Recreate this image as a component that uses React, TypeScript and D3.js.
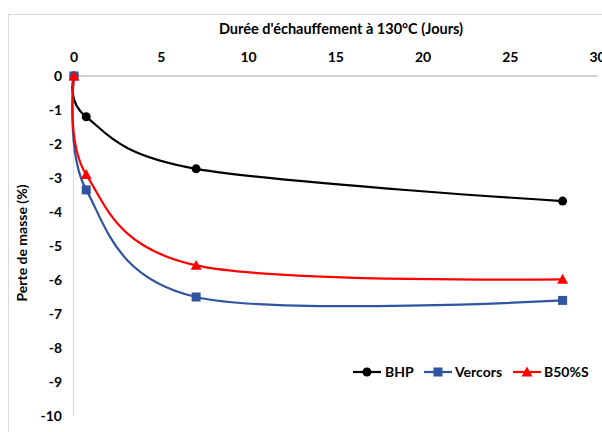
import React from "react";
import * as d3 from "d3";

const days = [0, 0.7, 7, 28];
const bhp = [0, -1.2, -2.73, -3.68];
const vercors = [0, -3.35, -6.5, -6.6];
const b50 = [0, -2.9, -5.57, -5.98];
const xTicks = [0, 5, 10, 15, 20, 25, 30];
const yTicks = [0, -1, -2, -3, -4, -5, -6, -7, -8, -9, -10];
const seriesNames = ["BHP", "Vercors", "B50%S"];
const seriesColors = ["#000000", "#2F55A0", "#FF0000"];
const xTitle = "Durée d'échauffement à 130°C (Jours)";
const yTitle = "Perte de masse (%)";

const FONT = "Lato, 'Open Sans', sans-serif";

function Marker({ kind, x, y, color }: { kind: number; x: number; y: number; color: string }) {
  if (kind === 0) return <circle cx={x} cy={y} r={4.5} fill={color} />;
  if (kind === 1) return <rect x={x - 4.5} y={y - 4.5} width={9} height={9} fill={color} />;
  const s = 5.5;
  return (
    <path
      d={`M${x},${y - s} L${x + s},${y + s * 0.8} L${x - s},${y + s * 0.8} Z`}
      fill={color}
    />
  );
}

export default function App() {
  const W = 602;
  const H = 432;
  const x = d3.scaleLinear().domain([0, 30]).range([74, 597.5]);
  const y = d3.scaleLinear().domain([0, -10]).range([76, 416]);
  const series = [bhp, vercors, b50];
  const line = d3
    .line<[number, number]>()
    .x((d) => x(d[0]))
    .y((d) => y(d[1]))
    .curve(d3.curveCardinal.tension(0));

  const legendItems = [
    { lx: 353, tx: 385 },
    { lx: 424, tx: 455 },
    { lx: 513, tx: 544 },
  ];

  return (
    <svg
      width={W}
      height={H}
      style={{ position: "absolute", left: 0, top: 0, background: "#fff" }}
      fontFamily={FONT}
    >
      <rect x={0} y={0} width={W} height={H} fill="#fff" />
      <rect x={8.5} y={14.5} width={W} height={H} fill="none" stroke="#D9D9D9" strokeWidth={1} />
      <text x={341} y={34} textAnchor="middle" fontSize={14.5} fontWeight="bold" fill="#000">
        {xTitle}
      </text>
      {xTicks.map((t) => (
        <text key={t} x={x(t)} y={62} textAnchor="middle" fontSize={14} fontWeight="bold" fill="#000">
          {t}
        </text>
      ))}
      {yTicks.map((t) => (
        <text key={t} x={62} y={y(t) + 5} textAnchor="end" fontSize={14} fontWeight="bold" fill="#000">
          {t}
        </text>
      ))}
      <text
        transform={`translate(27,243) rotate(-90)`}
        textAnchor="middle"
        fontSize={14}
        fontWeight="bold"
        fill="#000"
      >
        {yTitle}
      </text>
      <line x1={73.5} x2={73.5} y1={y(0)} y2={y(-10)} stroke="#D9D9D9" strokeWidth={1} />
      <line x1={x(0)} x2={x(30)} y1={y(0)} y2={y(0)} stroke="#BFBFBF" strokeWidth={1.5} />
      {series.map((s, i) => {
        const pts = days.map((d, j) => [d, s[j]] as [number, number]);
        return (
          <g key={i}>
            <path d={line(pts) || ""} fill="none" stroke={seriesColors[i]} strokeWidth={2.2} />
            {pts.map((p, j) => (
              <Marker key={j} kind={i} x={x(p[0])} y={y(p[1])} color={seriesColors[i]} />
            ))}
          </g>
        );
      })}
      {legendItems.map((it, i) => (
        <g key={i}>
          <line x1={it.lx} x2={it.lx + 28} y1={372} y2={372} stroke={seriesColors[i]} strokeWidth={2.2} />
          <Marker kind={i} x={it.lx + 14} y={372} color={seriesColors[i]} />
          <text x={it.tx} y={377} fontSize={14} fontWeight="bold" fill="#000">
            {seriesNames[i]}
          </text>
        </g>
      ))}
    </svg>
  );
}
